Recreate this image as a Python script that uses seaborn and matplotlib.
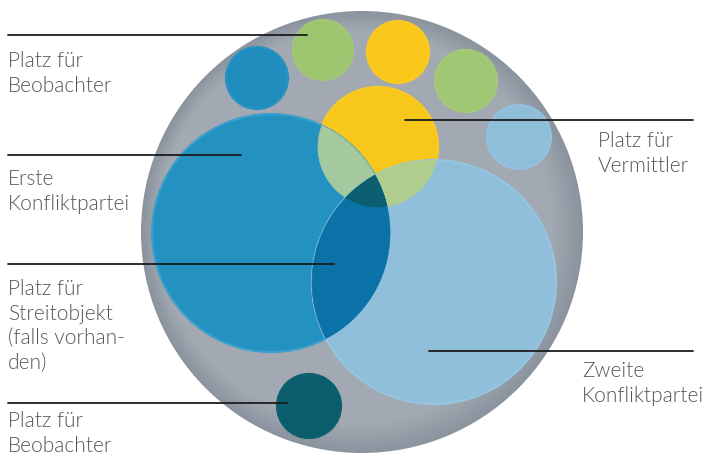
import numpy as np
import matplotlib
matplotlib.use("Agg")
import matplotlib.pyplot as plt
from matplotlib.patches import Circle, Polygon
from matplotlib.colors import to_rgb
import seaborn as sns

# ---- data ----
rug_center = (362, 232)
rug_radius = 221

circle_names = ["obs_green_1", "obs_blue", "yellow_small", "green_small", "lightblue_small",
                "vermittler", "partei_1", "partei_2", "obs_bottom"]
circle_x = [323, 257, 398, 466, 519, 378, 271, 434, 309]
circle_y = [50, 78, 52, 81, 137, 147, 233, 282, 406]
circle_r = [30, 31, 31, 31, 32, 60, 119, 122, 32]
circle_colors = ["#9dc46e", "#1f8ebf", "#f9c81a", "#a0c773", "#8fbedb",
                 "#f8c71c", "#2492c1", "#8fbfdb", "#0b5d6d"]
circle_rims = ["#a2c774", "#2793c2", "#f9ca22", "#a4c978", "#94c1dd",
               "#f8ca24", "#3c9fcb", "#97c4df", "#0d6070"]

# overlaps: (indices, colour)
overlaps = [((5, 6), "#a4c99e"),
            ((5, 7), "#afce8e"),
            ((6, 7), "#0b72a8"),
            ((5, 6, 7), "#0c5f71")]

label_texts = ["Platz für\nBeobachter", "Erste\nKonfliktpartei",
               "Platz für\nStreitobjekt\n(falls vorhan-\nden)", "Platz für\nBeobachter",
               "Platz für\nVermittler", "Zweite\nKonfliktpartei"]
line_y = [35, 155, 264, 403, 120, 351]
line_x0 = [8, 8, 8, 8, 405, 429]
line_x1 = [307, 241, 334, 287, 693, 693]
text_x = [8, 8, 8, 8, 598, 582]
text_y = [51, 169, 279, 411, 131, 361]

# ---- plot ----
sns.set_theme(style="white")
plt.rcParams["font.family"] = ["Lato", "DejaVu Sans"]

fig = plt.figure(figsize=(7.06, 4.57), dpi=100)
ax = fig.add_axes([0, 0, 1, 1])
ax.set_xlim(0, 706)
ax.set_ylim(457, 0)
ax.set_aspect("equal")
ax.axis("off")

# rug with a soft darker rim (darker towards the lower right)
outer = np.array(to_rgb("#8a939e"))
inner = np.array(to_rgb("#a2a9b2"))
n_rings = 14
for k in range(n_rings):
    f = k / (n_rings - 1)
    col = outer * (1 - f) + inner * f
    cx = rug_center[0] - 0.55 * k
    cy = rug_center[1] - 0.35 * k
    ax.add_patch(Circle((cx, cy), rug_radius - 1.8 * k, color=col, lw=0, zorder=1))

for x, y, r, c, e in zip(circle_x, circle_y, circle_r, circle_colors, circle_rims):
    ax.add_patch(Circle((x, y), r, facecolor=c, edgecolor=e, lw=1.6, zorder=2))


def intersection_polygon(idx, n=1440):
    pts = []
    t = np.linspace(0, 2 * np.pi, n, endpoint=False)
    for i in idx:
        px = circle_x[i] + circle_r[i] * np.cos(t)
        py = circle_y[i] + circle_r[i] * np.sin(t)
        mask = np.ones(n, bool)
        for j in idx:
            if j == i:
                continue
            mask &= (px - circle_x[j]) ** 2 + (py - circle_y[j]) ** 2 <= circle_r[j] ** 2
        pts.append(np.column_stack([px[mask], py[mask]]))
    pts = np.vstack(pts)
    c = pts.mean(axis=0)
    ang = np.arctan2(pts[:, 1] - c[1], pts[:, 0] - c[0])
    return pts[np.argsort(ang)]


for k, (idx, col) in enumerate(overlaps):
    poly = intersection_polygon(idx)
    ax.add_patch(Polygon(poly, closed=True, facecolor=col, edgecolor=col, lw=0.5, zorder=3 + k))

# leader lines
for x0, x1, y in zip(line_x0, line_x1, line_y):
    sns.lineplot(x=[x0, x1], y=[y, y], ax=ax, color="#1c1c1c", lw=1.3, zorder=10)

for tx, ty, s in zip(text_x, text_y, label_texts):
    ax.text(tx, ty, s, ha="left", va="top", fontsize=15, color="#555555",
            fontweight=300, linespacing=1.3, zorder=11)

fig.savefig("out.png", dpi=100)
